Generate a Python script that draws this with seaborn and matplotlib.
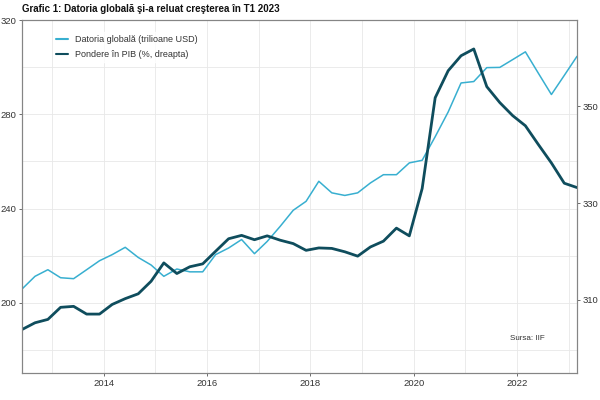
import matplotlib
matplotlib.use("Agg")
import matplotlib.pyplot as plt
import matplotlib.dates as mdates
import pandas as pd
import seaborn as sns

# Quarterly data, Q2 2012 - Q1 2023
dates = pd.date_range("2012-06-01", periods=44, freq="3MS")
debt = [205.9, 211.3, 214.1, 210.7, 210.3, 214.1, 217.9, 220.5, 223.6, 219.3,
        216.1, 211.3, 214.4, 213.2, 213.2, 220.5, 223.3, 226.9, 220.9, 226.1,
        232.5, 239.3, 243.1, 251.6, 246.7, 245.6, 246.7, 250.9, 254.4, 254.4,
        259.4, 260.5, 270.5, 281.0, 293.3, 293.9, 299.8, 299.9, 303.2, 306.5,
        297.4, 288.4, 296.5, 304.6]
ratio = [303.8, 305.2, 305.9, 308.4, 308.6, 307.0, 307.0, 309.0, 310.2, 311.2,
         313.8, 317.6, 315.4, 316.8, 317.4, 320.0, 322.6, 323.3, 322.4, 323.2,
         322.3, 321.6, 320.2, 320.7, 320.6, 319.9, 319.0, 320.9, 322.1, 324.8,
         323.2, 333.0, 351.8, 357.4, 360.5, 361.9, 354.1, 350.8, 348.1, 346.0,
         342.1, 338.3, 334.1, 333.2]

df = pd.DataFrame({"date": dates, "debt": debt, "ratio": ratio})

title = "Grafic 1: Datoria globală şi-a reluat creşterea în T1 2023"
lab_debt = "Datoria globală (trilioane USD)"
lab_ratio = "Pondere în PIB (%, dreapta)"
light = "#38afd0"
dark = "#0f4d5d"
grey = "#858585"

sns.set_style("white")
plt.rcParams["font.family"] = ["Liberation Sans", "DejaVu Sans"]

fig = plt.figure(figsize=(6, 4), dpi=100)
ax = fig.add_axes([22 / 600, 27 / 400, 555 / 600, 353 / 400])
ax2 = ax.twinx()

sns.lineplot(data=df, x="date", y="debt", ax=ax, color=light, linewidth=1.1, label=lab_debt, legend=False)
sns.lineplot(data=df, x="date", y="ratio", ax=ax2, color=dark, linewidth=2.0, label=lab_ratio, legend=False)

ax.set_xlim(pd.Timestamp("2012-06-01"), pd.Timestamp("2023-03-01"))
ax.set_ylim(170.3, 320)
ax2.set_ylim(294.8, 367.9)

ax.set_xticks([pd.Timestamp(f"{y}-01-01") for y in range(2014, 2023, 2)])
ax.set_xticks([pd.Timestamp(f"{y}-01-01") for y in range(2013, 2024, 2)], minor=True)
ax.xaxis.set_major_formatter(mdates.DateFormatter("%Y"))
ax.set_yticks([200, 240, 280, 320])
ax.set_yticks([180, 220, 260, 300], minor=True)
ax2.set_yticks([310, 330, 350])

ax.grid(True, which="both", color="#e8e8e8", linewidth=0.6)
ax2.grid(False)
ax.set_axisbelow(True)

for a in (ax, ax2):
    a.set_xlabel("")
    a.set_ylabel("")
    for s in a.spines.values():
        s.set_color(grey)
        s.set_linewidth(0.8)
    a.tick_params(which="major", length=2.5, width=0.6, color="#555555", labelsize=6.8,
                  labelcolor="#333333", pad=1.5)
    a.tick_params(which="minor", length=0)
ax.tick_params(axis="y", left=True)
ax.tick_params(axis="x", bottom=True)
ax2.tick_params(axis="y", right=True)

h1, l1 = ax.get_legend_handles_labels()
h2, l2 = ax2.get_legend_handles_labels()
leg = ax2.legend(h1 + h2, l1 + l2, loc="upper left", bbox_to_anchor=(0.049, 0.978),
                 frameon=True, fontsize=6.5, handlelength=1.3, handletextpad=0.8,
                 labelspacing=0.65, borderpad=0.3)
leg.get_frame().set_facecolor("white")
leg.get_frame().set_edgecolor("white")
for t in leg.get_texts():
    t.set_color("#333333")
for line in leg.get_lines():
    line.set_linewidth(1.5)

ax2.text(0.91, 0.099, "Sursa: IIF", transform=ax2.transAxes, ha="center", va="center",
         fontsize=5.8, color="#333333")

fig.text(22 / 600, 1 - 9 / 400, title, ha="left", va="center", fontsize=7.0,
         fontweight="bold", color="#111111")

fig.savefig("out.png", dpi=100)
